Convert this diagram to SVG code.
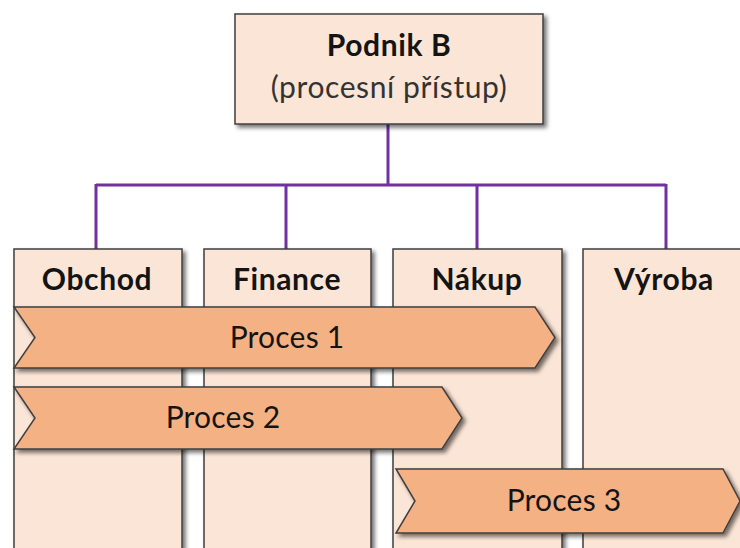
<svg xmlns="http://www.w3.org/2000/svg" width="740" height="548" viewBox="0 0 740 548">
  <defs>
    <filter id="shadow" x="-10%" y="-10%" width="130%" height="130%">
      <feDropShadow dx="3" dy="3" stdDeviation="2.2" flood-color="#000" flood-opacity="0.55"/>
    </filter>
  </defs>
  <style>
    .box { fill: #FBE5D6; stroke: #3F3F3F; stroke-width: 1.5; filter: url(#shadow); }
    .proc { fill: #F4B183; stroke: #3F3F3F; stroke-width: 1.5; filter: url(#shadow); }
    .link { fill: none; stroke: #7030A0; stroke-width: 3; }
    .head { font-family: Lato, "Liberation Sans", sans-serif; font-weight: bold; font-size: 30px; letter-spacing: 0.6px; fill: #141414; text-anchor: middle; }
    .sub { font-family: Lato, "Liberation Sans", sans-serif; font-size: 30px; letter-spacing: 0.6px; fill: #333; text-anchor: middle; }
    .plabel { font-family: Lato, "Liberation Sans", sans-serif; font-size: 30px; letter-spacing: 0.2px; fill: #141414; text-anchor: middle; }
  </style>

  <g id="connectors">
    <path class="link" d="M388 124 V185 M96 185 H666 M96 184 V249 M286 184 V249 M477 184 V249 M666 184 V249"/>
  </g>

  <g id="podnik">
    <rect class="box" x="235" y="14" width="308" height="110"/>
    <text class="head" x="389" y="56">Podnik B</text>
    <text class="sub" x="389" y="98">(procesní přístup)</text>
  </g>

  <g id="obchod">
    <rect class="box" x="14" y="249" width="168" height="310"/>
    <text class="head" x="97" y="290">Obchod</text>
  </g>
  <g id="finance">
    <rect class="box" x="204" y="249" width="167" height="310"/>
    <text class="head" x="287" y="290">Finance</text>
  </g>
  <g id="nakup">
    <rect class="box" x="393" y="249" width="169" height="310"/>
    <text class="head" x="477" y="290">Nákup</text>
  </g>
  <g id="vyroba">
    <rect class="box" x="583" y="249" width="170" height="310"/>
    <text class="head" x="664" y="290">Výroba</text>
  </g>

  <g id="proces1">
    <polygon class="proc" points="14,307 535,307 555,337.5 535,368 14,368 35,337.5"/>
    <text class="plabel" x="287" y="348">Proces 1</text>
  </g>
  <g id="proces2">
    <polygon class="proc" points="14,387 442,387 462,418 442,449 14,449 35,418"/>
    <text class="plabel" x="223" y="428">Proces 2</text>
  </g>
  <g id="proces3">
    <polygon class="proc" points="396,469 723,469 740,501 723,533 396,533 415,501"/>
    <text class="plabel" x="564" y="511">Proces 3</text>
  </g>
</svg>
